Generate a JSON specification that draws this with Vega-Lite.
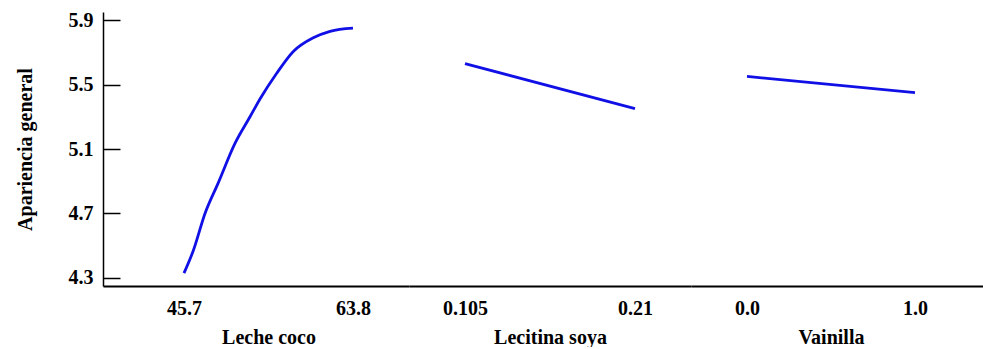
{
  "$schema": "https://vega.github.io/schema/vega-lite/v6.json",
  "background": "white",
  "padding": {"left": 15, "top": 10, "right": 0, "bottom": 0},
  "config": {
    "view": {"stroke": null},
    "font": "Liberation Serif, Times New Roman, serif",
    "axis": {
      "grid": false,
      "domainColor": "black",
      "labelColor": "black",
      "titleColor": "black",
      "tickColor": "black",
      "labelFont": "Liberation Serif, Times New Roman, serif",
      "titleFont": "Liberation Serif, Times New Roman, serif",
      "labelFontSize": 20,
      "titleFontSize": 20,
      "labelFontWeight": "bold",
      "titleFontWeight": "bold"
    }
  },
  "datasets": {
    "efectos": [
      {"factor": "Leche coco", "nivel": 45.7, "respuesta": 4.33},
      {"factor": "Leche coco", "nivel": 46.7, "respuesta": 4.47},
      {"factor": "Leche coco", "nivel": 47.95, "respuesta": 4.70},
      {"factor": "Leche coco", "nivel": 49.37, "respuesta": 4.89},
      {"factor": "Leche coco", "nivel": 51.16, "respuesta": 5.135},
      {"factor": "Leche coco", "nivel": 52.77, "respuesta": 5.30},
      {"factor": "Leche coco", "nivel": 53.84, "respuesta": 5.41},
      {"factor": "Leche coco", "nivel": 55.63, "respuesta": 5.57},
      {"factor": "Leche coco", "nivel": 57.41, "respuesta": 5.705},
      {"factor": "Leche coco", "nivel": 59.55, "respuesta": 5.79},
      {"factor": "Leche coco", "nivel": 61.34, "respuesta": 5.83},
      {"factor": "Leche coco", "nivel": 63.8, "respuesta": 5.85},
      {"factor": "Lecitina soya", "nivel": 0.105, "respuesta": 5.63},
      {"factor": "Lecitina soya", "nivel": 0.21, "respuesta": 5.35},
      {"factor": "Vainilla", "nivel": 0.0, "respuesta": 5.55},
      {"factor": "Vainilla", "nivel": 1.0, "respuesta": 5.45}
    ]
  },
  "spacing": 0,
  "resolve": {"scale": {"x": "independent", "y": "shared"}},
  "hconcat": [
    {
      "width": 306,
      "height": 274,
      "data": {"name": "efectos"},
      "transform": [{"filter": "datum.factor === 'Leche coco'"}],
      "mark": {"type": "line", "color": "#1010e6", "strokeWidth": 2.8, "interpolate": "monotone"},
      "encoding": {
        "x": {
          "field": "nivel", "type": "quantitative",
          "scale": {"domain": [37.025, 69.8], "nice": false, "zero": false},
          "axis": {
            "values": [45.7, 63.8], "format": ".1f", "ticks": false, "tickSize": 0,
            "domainWidth": 2, "labelPadding": 12, "titlePadding": 9,
            "title": "Leche coco", "titleX": 165.5
          }
        },
        "y": {
          "field": "respuesta", "type": "quantitative",
          "scale": {"domain": [4.25, 5.95], "nice": false, "zero": false},
          "axis": {
            "values": [4.3, 4.7, 5.1, 5.5, 5.9], "format": ".1f",
            "tickSize": -17, "tickWidth": 1.5, "domainWidth": 1.5,
            "labelPadding": 27, "titlePadding": 33,
            "title": "Apariencia general"
          }
        }
      }
    },
    {
      "width": 282,
      "height": 274,
      "data": {"name": "efectos"},
      "transform": [{"filter": "datum.factor === 'Lecitina soya'"}],
      "mark": {"type": "line", "color": "#1010e6", "strokeWidth": 2.8},
      "encoding": {
        "x": {
          "field": "nivel", "type": "quantitative",
          "scale": {"domain": [0.07041, 0.24459], "nice": false, "zero": false},
          "axis": {
            "values": [0.105, 0.21], "format": ".3~f", "ticks": false, "tickSize": 0,
            "domainWidth": 2, "labelPadding": 12, "titlePadding": 9,
            "title": "Lecitina soya", "titleX": 141
          }
        },
        "y": {
          "field": "respuesta", "type": "quantitative",
          "scale": {"domain": [4.25, 5.95], "nice": false, "zero": false},
          "axis": null
        }
      }
    },
    {
      "width": 292,
      "height": 274,
      "data": {"name": "efectos"},
      "transform": [{"filter": "datum.factor === 'Vainilla'"}],
      "mark": {"type": "line", "color": "#1010e6", "strokeWidth": 2.8},
      "encoding": {
        "x": {
          "field": "nivel", "type": "quantitative",
          "scale": {"domain": [-0.3333, 1.4048], "nice": false, "zero": false},
          "axis": {
            "values": [0.0, 1.0], "format": ".1f", "ticks": false, "tickSize": 0,
            "domainWidth": 2, "labelPadding": 12, "titlePadding": 9,
            "title": "Vainilla", "titleX": 140
          }
        },
        "y": {
          "field": "respuesta", "type": "quantitative",
          "scale": {"domain": [4.25, 5.95], "nice": false, "zero": false},
          "axis": null
        }
      }
    }
  ]
}
